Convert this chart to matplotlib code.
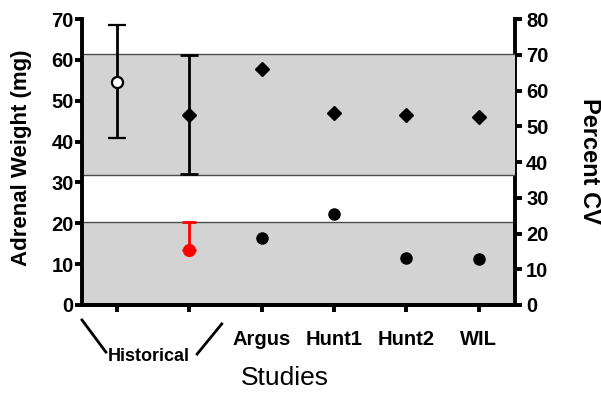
import matplotlib.pyplot as plt
import matplotlib.transforms as mtransforms

plt.rcParams['font.family'] = ['Liberation Sans', 'DejaVu Sans']

studies = ['', '', 'Argus', 'Hunt1', 'Hunt2', 'WIL']
xpos = [1, 2, 3, 4, 5, 6]

# adrenal weight (left axis)
hist_mean = 54.7
hist_lo, hist_hi = 40.9, 68.5
range_mid = 46.5
range_lo, range_hi = 32.0, 61.2
weights = [57.8, 47.1, 46.5, 46.1]
weight_band = (31.8, 61.5)

# percent CV (right axis)
hist_cv = 15.4
hist_cv_hi = 23.1
cvs = [18.7, 25.4, 13.1, 12.9]
cv_band = (0, 23.1)

fig = plt.figure(figsize=(6.01, 3.96), dpi=100)
ax = fig.add_axes([0.1364, 0.2298, 0.7206, 0.7222])
ax2 = ax.twinx()

band_col = '#d3d3d3'
edge_col = '#4d4d4d'
ax.axhspan(weight_band[0], weight_band[1], color=band_col, zorder=0, lw=0)
ax.axhline(weight_band[0], color=edge_col, lw=1, zorder=1)
ax.axhline(weight_band[1], color=edge_col, lw=1, zorder=1)
ax2.axhspan(cv_band[0], cv_band[1], color=band_col, zorder=0, lw=0)
ax2.axhline(cv_band[1], color=edge_col, lw=1, zorder=1)

ax.set_zorder(ax2.get_zorder() + 1)
ax.patch.set_visible(False)

ax.errorbar([xpos[0]], [hist_mean],
            yerr=[[hist_mean - hist_lo], [hist_hi - hist_mean]],
            fmt='o', mfc='white', mec='black', mew=1.6, ms=8,
            ecolor='black', elinewidth=2, capsize=6.5, capthick=2, zorder=5)
ax.errorbar([xpos[1]], [range_mid],
            yerr=[[range_mid - range_lo], [range_hi - range_mid]],
            fmt='D', color='black', ms=7,
            ecolor='black', elinewidth=2, capsize=6.5, capthick=2, zorder=5)
ax.plot(xpos[2:], weights, 'D', color='black', ms=7, zorder=5)

ax2.errorbar([xpos[1]], [hist_cv], yerr=[[0], [hist_cv_hi - hist_cv]],
             fmt='o', color='red', ms=8.5, ecolor='red',
             elinewidth=2, capsize=5, capthick=2, zorder=5)
ax2.plot(xpos[2:], cvs, 'o', color='black', ms=8, zorder=5)

ax.set_xlim(0.52, 6.5)
ax.set_ylim(0, 70)
ax2.set_ylim(0, 80)
ax.set_yticks(range(0, 71, 10))
ax2.set_yticks(range(0, 81, 10))
ax.set_xticks(xpos)
ax.set_xticklabels(studies, fontsize=14, fontweight='bold')

for a in (ax, ax2):
    a.spines['top'].set_visible(False)
    for s in ('left', 'right', 'bottom'):
        a.spines[s].set_linewidth(2.8)
    a.tick_params(width=2.8, length=5, labelsize=14.5)
    for lab in a.get_yticklabels():
        lab.set_fontweight('bold')
ax.spines['right'].set_visible(False)
ax2.spines['left'].set_visible(False)
ax.tick_params(axis='y', pad=1)
ax2.tick_params(axis='y', pad=3)
ax.tick_params(axis='x', pad=13)

ax.set_ylabel('Adrenal Weight (mg)', fontsize=16, fontweight='bold', va='center')
ax.yaxis.set_label_coords(-0.139, 0.516)
ax2.set_ylabel('Percent CV', fontsize=17, fontweight='bold', rotation=-90, va='center')
ax2.yaxis.set_label_coords(1.173, 0.502)
ax.set_xlabel('Studies', fontsize=19)
ax.xaxis.set_label_coords(0.469, -0.255)
ax.xaxis.label.set_va('center')

# bracket marking the two historical columns
trans = mtransforms.blended_transform_factory(ax.transData, fig.transFigure)
ax.plot([0.52, 0.85], [0.192, 0.111], color='black', lw=2, transform=trans, clip_on=False)
ax.plot([2.11, 2.45], [0.106, 0.182], color='black', lw=2, transform=trans, clip_on=False)
ax.text(1.445, 0.101, 'Historical', transform=trans, ha='center', va='center',
        fontsize=13, fontweight='bold')

fig.savefig('out.png', dpi=100)
